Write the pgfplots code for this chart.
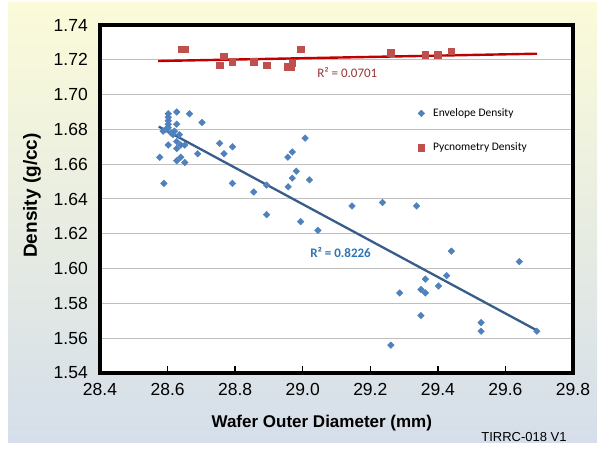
\documentclass[border=0pt]{standalone}
\usepackage{pgfplots}
\pgfplotsset{compat=1.18}
\usepackage{fontspec}
\setmainfont{Liberation Sans}
\newfontfamily\carlito{Carlito}

\definecolor{envblue}{HTML}{4F81BD}
\definecolor{envline}{HTML}{385D8A}
\definecolor{pycred}{HTML}{C0504D}
\definecolor{pycline}{HTML}{C00000}
\definecolor{rtextred}{HTML}{953735}
\definecolor{rtextblue}{HTML}{2E75B6}
\definecolor{bgtop}{HTML}{FBFBD9}
\definecolor{bgbottom}{HTML}{D5DEEA}

% Envelope density vs. wafer outer diameter
\pgfplotstableread{
od      rho
28.602  1.689
28.627  1.690
28.665  1.689
28.702  1.684
28.602  1.687
28.602  1.685
28.602  1.683
28.602  1.681
28.627  1.683
28.587  1.679
28.595  1.680
28.610  1.678
28.620  1.679
28.635  1.677
28.616  1.677
28.602  1.671
28.627  1.673
28.639  1.671
28.651  1.671
28.627  1.669
28.689  1.666
28.577  1.664
28.639  1.664
28.627  1.662
28.651  1.661
28.589  1.649
28.754  1.672
28.767  1.666
28.792  1.670
28.792  1.649
28.855  1.644
28.893  1.648
28.893  1.631
28.956  1.664
28.969  1.667
29.007  1.675
28.981  1.656
28.969  1.652
28.957  1.647
29.020  1.651
28.994  1.627
29.045  1.622
29.146  1.636
29.236  1.638
29.337  1.636
29.440  1.610
29.641  1.604
29.426  1.596
29.363  1.594
29.402  1.590
29.350  1.588
29.363  1.586
29.287  1.586
29.350  1.573
29.528  1.569
29.528  1.564
29.693  1.564
29.261  1.556
}\envelope

% Pycnometry density vs. wafer outer diameter
\pgfplotstableread{
od      rho
28.641  1.726
28.653  1.726
28.754  1.717
28.766  1.722
28.792  1.719
28.855  1.719
28.893  1.717
28.955  1.716
28.965  1.716
28.968  1.718
28.994  1.726
29.261  1.724
29.363  1.723
29.400  1.723
29.440  1.725
}\pycno

\begin{document}
\begin{tikzpicture}
\useasboundingbox (0bp,0bp) rectangle (599bp,452bp);
\shade[top color=bgtop, bottom color=bgbottom] (8bp,9bp) rectangle (597bp,449bp);
\begin{axis}[
  at={(100bp,79bp)}, anchor=south west,
  scale only axis, width=473bp, height=348bp,
  xmin=28.4, xmax=29.8, ymin=1.54, ymax=1.74,
  xtick={28.4,28.6,28.8,29.0,29.2,29.4,29.6,29.8},
  ytick={1.54,1.56,1.58,1.60,1.62,1.64,1.66,1.68,1.70,1.72,1.74},
  xticklabel style={/pgf/number format/fixed, /pgf/number format/fixed zerofill, /pgf/number format/precision=1},
  yticklabel style={/pgf/number format/fixed, /pgf/number format/fixed zerofill, /pgf/number format/precision=2},
  /pgf/number format/assume math mode=true,
  ticklabel style={font=\fontsize{17.5bp}{20bp}\selectfont, inner sep=0pt},
  xticklabel style={anchor=north, yshift=-10bp},
  yticklabel style={anchor=east, xshift=-12bp},
  xtick pos=left, tick align=inside, major tick length=7bp,
  xtick style={black, line width=1.3bp},
  ytick style={draw=none},
  axis line style={black, line width=4bp},
  axis background/.style={fill=white},
  ymajorgrids, major grid style={draw=black!25, line width=1bp},
  xlabel={Wafer Outer Diameter (mm)},
  ylabel={Density (g/cc)},
  xlabel style={font=\bfseries\fontsize{17bp}{20bp}\selectfont,
    at={(axis description cs:0.469,-0.144)}, anchor=center},
  ylabel style={font=\bfseries\fontsize{19bp}{22bp}\selectfont,
    at={(axis description cs:-0.1438,0.510)}, anchor=center},
  legend image code/.code={\draw[#1] plot coordinates {(0bp,0bp)};},
  legend cell align=left,
  legend style={draw=none, fill=none, inner sep=0pt, column sep=6.5bp, row sep=21bp,
    font=\carlito\fontsize{11.5bp}{13bp}\selectfont,
    at={(axis description cs:0.672,0.766)}, anchor=north west},
]
\addplot[only marks, mark=square*, mark size=2.35bp, mark options={rotate=45}, color=envblue]
  table[x=od, y=rho] {\envelope};
\addlegendentry{Envelope Density}
\addplot[only marks, mark=square*, mark size=3.2bp, color=pycred]
  table[x=od, y=rho] {\pycno};
\addlegendentry{Pycnometry Density}
% linear trend lines
\addplot[forget plot, envline, line width=2.3bp] coordinates {(28.574,1.6816) (29.693,1.5645)};
\addplot[forget plot, pycline, line width=2.4bp] coordinates {(28.572,1.7193) (29.694,1.7235)};
\node[font=\carlito\fontsize{13bp}{15bp}\selectfont, text=rtextred] at (axis cs:29.132,1.7124) {R² = 0.0701};
\node[font=\carlito\bfseries\fontsize{13bp}{15bp}\selectfont, text=rtextblue] at (axis cs:29.112,1.609) {R² = 0.8226};
\end{axis}
\node[font=\fontsize{13bp}{15bp}\selectfont] at (524bp,15bp) {TIRRC-018 V1};
\end{tikzpicture}
\end{document}
